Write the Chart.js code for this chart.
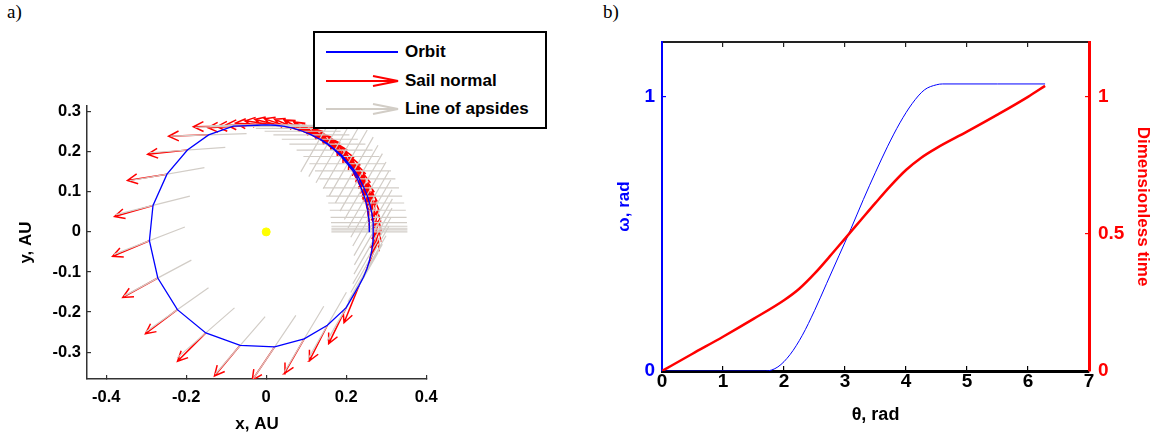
<!DOCTYPE html>
<html>
<head>
<meta charset="utf-8">
<script src="https://cdn.jsdelivr.net/npm/chart.js@4.4.1/dist/chart.umd.min.js"></script>
<style>
  body { margin: 0; background: #fff; width: 1159px; height: 443px; position: relative; overflow: hidden; font-family: "Liberation Sans", Arial, sans-serif; }
  canvas { position: absolute; top: 0; }
  #chartA { left: 0; }
  #chartB { left: 580px; }
  .tag { position: absolute; top: 1px; font: 19px "Liberation Serif", serif; color: #000; }
  #legend { position: absolute; left: 313px; top: 31px; width: 230px; height: 94px; border: 2px solid #000; background: #fff; }
  #legend .row { position: absolute; left: 0; height: 20px; width: 230px; }
  #legend svg { position: absolute; left: 11px; top: 3px; }
  #legend span { position: absolute; left: 90px; top: 0; line-height: 20px; font-size: 17px; font-weight: bold; color: #000; white-space: nowrap; }
</style>
</head>
<body>
<div class="tag" style="left:7px">a)</div>
<div class="tag" style="left:603px">b)</div>
<canvas id="chartA" width="580" height="443"></canvas>
<canvas id="chartB" width="579" height="443"></canvas>
<div id="legend">
  <div class="row" style="top:9px">
    <svg width="74" height="14"><line x1="0" y1="7" x2="72" y2="7" stroke="#0000ff" stroke-width="2"/></svg>
    <span>Orbit</span>
  </div>
  <div class="row" style="top:38px">
    <svg width="74" height="14"><line x1="0" y1="7" x2="72" y2="7" stroke="#ff0000" stroke-width="2"/><polyline points="47,2 72,7 47,12" fill="none" stroke="#ff0000" stroke-width="2"/></svg>
    <span>Sail normal</span>
  </div>
  <div class="row" style="top:66px">
    <svg width="74" height="14"><line x1="0" y1="7" x2="72" y2="7" stroke="#d2cdc6" stroke-width="2"/><polyline points="47,2 72,7 47,12" fill="none" stroke="#d2cdc6" stroke-width="2"/></svg>
    <span>Line of apsides</span>
  </div>
</div>
<script>
// ---- panel a: orbit samples (AU), sail normal and apsides directions (deg)
const orbitX = [0.258, 0.258, 0.258, 0.258, 0.257, 0.256, 0.254, 0.250, 0.245, 0.237, 0.228, 0.217, 0.203,
  0.188, 0.171, 0.153, 0.134, 0.113, 0.091, 0.069, 0.046, 0.023, 0.000, -0.023, -0.046,
  -0.082, -0.144, -0.197, -0.248, -0.283, -0.292, -0.271, -0.222, -0.151, -0.065, 0.021, 0.095, 0.153, 0.200,
  0.232, 0.243, 0.252, 0.259, 0.264, 0.267, 0.268, 0.267, 0.264, 0.259, 0.252, 0.243, 0.232,
  0.220, 0.205, 0.190, 0.172, 0.154, 0.134];
const orbitY = [0.000, 0.005, 0.009, 0.014, 0.023, 0.036, 0.054, 0.072, 0.089, 0.110, 0.132, 0.152, 0.170,
  0.188, 0.204, 0.219, 0.231, 0.242, 0.251, 0.258, 0.263, 0.266, 0.267, 0.266, 0.265,
  0.264, 0.242, 0.204, 0.144, 0.066, -0.022, -0.115, -0.194, -0.252, -0.283, -0.287, -0.267, -0.233, -0.189,
  -0.134, -0.113, -0.092, -0.069, -0.047, -0.023, 0.000, 0.023, 0.047, 0.069, 0.092, 0.113, 0.134,
  0.154, 0.172, 0.190, 0.205, 0.220, 0.232];
const normalDeg = [92, 93, 94, 95, 97, 100, 104, 108, 112, 117, 122, 127, 132,
  137, 142, 147, 152, 157, 162, 167, 172, 177, 180, 182, 183,
  181, 182, 186, 189, 196, 203, 209, 217, 225, 230, 236, 240, 243, 244,
  248, 68, 72, 77, 82, 87, 92, 97, 102, 107, 112, 117, 122,
  127, 132, 137, 142, 147, 152];
const apsidesDeg = [0, 0, 0, 0, 0, 0, 0, 0, 0, 0, 0, 0, 0,
  0, 0, 0, 0, 0, 0, 0, 0, 0, 0, 0, 0,
  2, 2, 4, 10, 14, 21, 28, 35, 41, 49, 56, 59, 60, 60,
  60, 60, 60, 60, 60, 60, 60, 60, 60, 60, 60, 60, 60,
  60, 60, 60, 60, 60, 60];
const sunX = [0];
const sunY = [0];
const xTicksA = [-0.4, -0.2, 0, 0.2, 0.4];
const yTicksA = [-0.3, -0.2, -0.1, 0, 0.1, 0.2, 0.3];

// ---- panel b
const thetaOmega = [0, 1.0, 1.7, 1.9, 2.1, 2.3, 2.5, 2.7, 2.9, 3.1, 3.3, 3.5, 3.7, 3.9, 4.1, 4.3, 4.5, 4.6, 5.5, 6.28];
const omega = [0, 0, 0, 0.015, 0.06, 0.13, 0.22, 0.32, 0.42, 0.52, 0.625, 0.725, 0.82, 0.905, 0.975, 1.025, 1.044, 1.047, 1.047, 1.047];
const thetaTime = [0, 0.5, 1, 1.5, 2, 2.25, 2.5, 2.75, 3, 3.25, 3.5, 3.75, 4, 4.25, 4.5, 5, 5.5, 6, 6.28];
const dimTime = [0, 0.063, 0.125, 0.19, 0.258, 0.3, 0.355, 0.418, 0.483, 0.548, 0.613, 0.676, 0.733, 0.778, 0.813, 0.873, 0.935, 1.0, 1.04];
const xTicksB = [0, 1, 2, 3, 4, 5, 6, 7];
const omegaTicks = [0, 1];
const timeTicks = [0, 0.5, 1];

const FONT = '"Liberation Sans", Arial, sans-serif';
const NORMAL_LEN = 0.1;
const APSE_HALF = 0.095;
const HEAD_LEN = 0.028;
const HEAD_ANG = 26;

function rad(d) { return d * Math.PI / 180; }
function bold(size) { return { family: FONT, size: size, weight: 'bold' }; }

const normalPts = [];
const apsePts = [];
orbitX.forEach((x0, i) => {
    const y0 = orbitY[i];
    const a = rad(normalDeg[i]);
    const tx = x0 + NORMAL_LEN * Math.cos(a);
    const ty = y0 + NORMAL_LEN * Math.sin(a);
    const w1 = a + Math.PI - rad(HEAD_ANG);
    const w2 = a + Math.PI + rad(HEAD_ANG);
    normalPts.push({ x: x0, y: y0 }, { x: tx, y: ty }, { x: tx, y: null },
        { x: tx + HEAD_LEN * Math.cos(w1), y: ty + HEAD_LEN * Math.sin(w1) }, { x: tx, y: ty },
        { x: tx + HEAD_LEN * Math.cos(w2), y: ty + HEAD_LEN * Math.sin(w2) }, { x: tx, y: null });

    const g = rad(apsidesDeg[i]);
    apsePts.push({ x: x0 - APSE_HALF * Math.cos(g), y: y0 - APSE_HALF * Math.sin(g) },
        { x: x0 + APSE_HALF * Math.cos(g), y: y0 + APSE_HALF * Math.sin(g) }, { x: x0, y: null });
});

const orbitPts = orbitX.map((x, i) => ({ x: x, y: orbitY[i] }));
const sunPts = sunX.map((x, i) => ({ x: x, y: sunY[i] }));

new Chart(document.getElementById('chartA'), {
    type: 'scatter',
    data: {
        datasets: [
            { label: 'Sun', data: sunPts, order: 0, pointRadius: 4, pointBackgroundColor: '#ffff00', pointBorderColor: '#ffff00', showLine: false },
            { label: 'Orbit', data: orbitPts, order: 1, showLine: true, borderColor: '#0000ff', borderWidth: 1.3, pointRadius: 0, spanGaps: false },
            { label: 'Line of apsides', data: apsePts, order: 2, showLine: true, borderColor: 'rgb(210,205,199)', borderWidth: 1.2, pointRadius: 0, spanGaps: false },
            { label: 'Sail normal', data: normalPts, order: 3, showLine: true, borderColor: '#ff0000', borderWidth: 1.5, pointRadius: 0, spanGaps: false }
        ]
    },
    options: {
        responsive: false,
        animation: false,
        layout: { padding: { left: 0, right: 153, top: 106, bottom: 0 } },
        plugins: { legend: { display: false }, tooltip: { enabled: false } },
        scales: {
            x: {
                type: 'linear', position: 'bottom', min: -0.448, max: 0.402,
                afterBuildTicks: s => { s.ticks = xTicksA.map(v => ({ value: v })); },
                afterFit: s => { s.height = 64; },
                ticks: { color: '#000', font: bold(16.5), padding: 13, autoSkip: false, maxRotation: 0, callback: v => String(v) },
                grid: { drawOnChartArea: false, tickLength: -4, color: '#333', lineWidth: 1.2 },
                border: { color: '#333', width: 1.5 },
                title: { display: true, text: 'x, AU', color: '#000', font: bold(17), padding: { top: 0, bottom: 8 } }
            },
            y: {
                type: 'linear', position: 'left', min: -0.367, max: 0.314,
                afterBuildTicks: s => { s.ticks = yTicksA.map(v => ({ value: v })); },
                afterFit: s => { s.width = 87; },
                ticks: { color: '#000', font: bold(16.5), padding: 10, autoSkip: false, callback: v => String(v) },
                grid: { drawOnChartArea: false, tickLength: -4, color: '#333', lineWidth: 1.2 },
                border: { color: '#333', width: 1.5 },
                title: { display: true, text: 'y, AU', color: '#000', font: bold(17), padding: { top: 16, bottom: 0 } }
            }
        }
    }
});

new Chart(document.getElementById('chartB'), {
    type: 'line',
    data: {
        datasets: [
            {
                label: 'Dimensionless time', data: thetaTime.map((t, i) => ({ x: t, y: dimTime[i] })),
                yAxisID: 'y2', borderColor: '#ff0000', borderWidth: 2.5, pointRadius: 0, cubicInterpolationMode: 'monotone', order: 0
            },
            {
                label: 'ω, rad', data: thetaOmega.map((t, i) => ({ x: t, y: omega[i] })),
                yAxisID: 'y', borderColor: '#0000ff', borderWidth: 1, pointRadius: 0, cubicInterpolationMode: 'monotone', order: 1
            }
        ]
    },
    options: {
        responsive: false,
        animation: false,
        layout: { padding: { left: 0, right: 0, top: 42, bottom: 0 } },
        plugins: { legend: { display: false }, tooltip: { enabled: false } },
        scales: {
            x: {
                type: 'linear', position: 'bottom', min: 0, max: 7,
                afterBuildTicks: s => { s.ticks = xTicksB.map(v => ({ value: v })); },
                afterFit: s => { s.height = 72; },
                ticks: { color: '#000', font: bold(19), padding: 4, autoSkip: false, maxRotation: 0 },
                grid: { drawOnChartArea: false, tickLength: -5, color: '#000', lineWidth: 1.2 },
                border: { color: '#000', width: 3 },
                title: { display: true, text: 'θ, rad', color: '#000', font: bold(18), padding: { top: 0, bottom: 17 } }
            },
            xTop: {
                type: 'linear', position: 'top', min: 0, max: 7,
                afterBuildTicks: s => { s.ticks = xTicksB.map(v => ({ value: v })); },
                afterFit: s => { s.height = 0; },
                ticks: { display: false },
                grid: { drawOnChartArea: false, tickLength: -5, color: '#222', lineWidth: 1.2 },
                border: { color: '#222', width: 2 }
            },
            y: {
                type: 'linear', position: 'left', min: 0, max: 1.2,
                afterBuildTicks: s => { s.ticks = omegaTicks.map(v => ({ value: v })); },
                afterFit: s => { s.width = 82; },
                ticks: { color: '#0000ff', font: bold(19), padding: 11, callback: v => String(v) },
                grid: { drawOnChartArea: false, tickLength: -4, color: '#0000ff', lineWidth: 1.2 },
                border: { color: '#0000ff', width: 2 },
                title: { display: true, text: 'ω, rad', color: '#0000ff', font: bold(17), padding: { top: 34, bottom: 0 } }
            },
            y2: {
                type: 'linear', position: 'right', min: 0, max: 1.2,
                afterBuildTicks: s => { s.ticks = timeTicks.map(v => ({ value: v })); },
                afterFit: s => { s.width = 70; },
                ticks: { color: '#ff0000', font: bold(19), padding: 13, callback: v => String(v) },
                grid: { drawOnChartArea: false, tickLength: -4, color: '#ff0000', lineWidth: 1.2 },
                border: { color: '#ff0000', width: 3 },
                title: { display: true, text: 'Dimensionless time', color: '#ff0000', font: bold(17), padding: { top: 6, bottom: 0 } }
            }
        }
    }
});
</script>
</body>
</html>
